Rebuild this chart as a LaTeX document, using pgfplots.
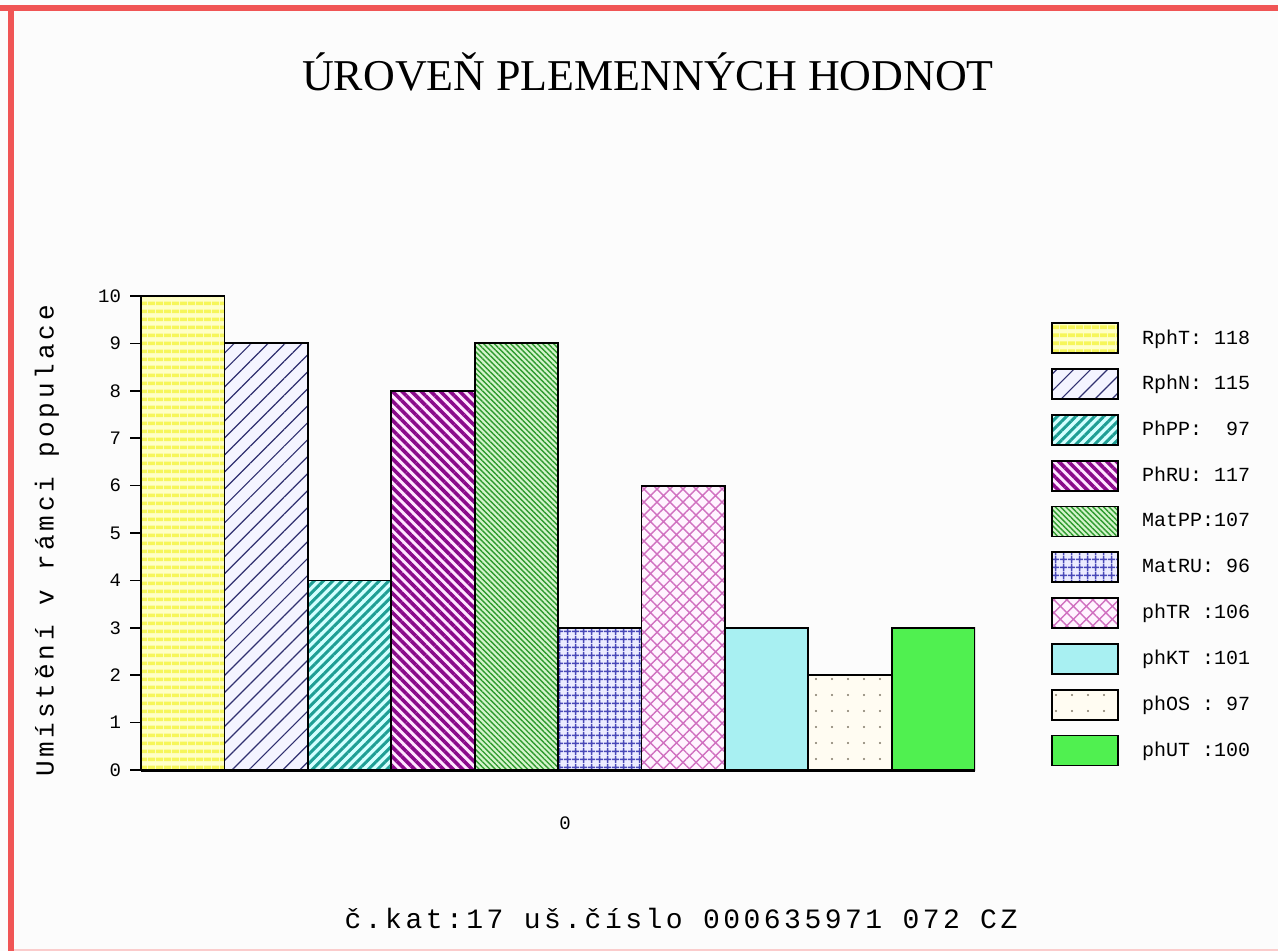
\documentclass[border=0pt]{standalone}
\usepackage{fontspec}
\setmainfont{Liberation Serif}
\newfontfamily\mono{Liberation Mono}
\newfontfamily\monoY[LetterSpace=15]{Liberation Mono}
\newfontfamily\monoB[LetterSpace=12.5]{Liberation Mono}
\usepackage{pgfplots}
\pgfplotsset{compat=1.18}
\usetikzlibrary{patterns.meta}

\definecolor{bgc}{HTML}{FCFCFC}
\definecolor{redb}{HTML}{F05555}
\definecolor{yel}{HTML}{F6F65A}
\definecolor{yelbg}{HTML}{FFFFC8}
\definecolor{navy}{HTML}{303070}
\definecolor{navybg}{HTML}{F4F4FF}
\definecolor{teal2}{HTML}{1E9E94}
\definecolor{tealbg}{HTML}{D4FFFF}
\definecolor{purp}{HTML}{8A0A8A}
\definecolor{purpbg}{HTML}{FFE6FF}
\definecolor{grn}{HTML}{2E9A2E}
\definecolor{grnbg}{HTML}{D4F4CC}
\definecolor{blu}{HTML}{4848B8}
\definecolor{blubg}{HTML}{ECECFF}
\definecolor{pnk}{HTML}{D070C0}
\definecolor{pnkbg}{HTML}{FFF4FF}
\definecolor{cyn}{HTML}{A8F0F2}
\definecolor{dotc}{HTML}{807868}
\definecolor{ivory}{HTML}{FFFCF2}
\definecolor{sgrn}{HTML}{50F050}

\pgfplotsset{
  myleg/.style={legend image code/.code={
    \draw[##1] (0pt,-7.5pt) rectangle (33pt,7.5pt);
    \path[draw=none,fill=none,postaction={}] (44.5pt,0pt);}},
}

\begin{document}
\begin{tikzpicture}[x=0.5pt,y=-0.5pt]
\fill[bgc] (0,0) rectangle (1278,951);
\fill[redb] (0,5) rectangle (1278,11);
\fill[redb] (8,5) rectangle (14,951);
\fill[redb!30] (14,949) rectangle (1278,951);

\node[font=\fontsize{22}{26}\selectfont] at (648,72) {ÚROVEŇ PLEMENNÝCH HODNOT};
\node[rotate=90, font=\monoY\fontsize{13}{15}\selectfont] at (47,541) {Umístění v rámci populace};
\node[font=\monoB\fontsize{14}{16}\selectfont] at (681,918) {č.kat:17 uš.číslo 000635971 072 CZ};

\begin{axis}[
  at={(70.5pt,-385pt)}, anchor=south west,
  scale only axis, width=417pt, height=237pt,
  ybar, bar width=1, bar shift=0pt,
  xmin=-0.5, xmax=9.5, ymin=0, ymax=10,
  axis x line*=bottom, axis y line*=left,
  x axis line style={line width=1.5pt},
  y axis line style={line width=0.8pt},
  ytick={0,...,10},
  xtick={4.5}, xticklabels={0},
  major x tick style={draw=none},
  tick align=outside, major tick length=5.5pt,
  major y tick style={line width=0.8pt, black},
  /pgf/number format/assume math mode=true,
  yticklabel style={font=\mono\fontsize{9.5}{10}\selectfont, xshift=-1pt},
  xticklabel style={font=\mono\fontsize{9.5}{10}\selectfont, anchor=center, yshift=-21pt, xshift=3.5pt},
  legend style={at={(1.0911,0.9451)}, anchor=north west, draw=none, fill=none,
    inner sep=0pt, row sep=7pt,
    font=\mono\fontsize{10}{12}\selectfont,
    nodes={inner sep=0pt, anchor=west}},
  legend cell align=left,
  every axis plot/.append style={draw=black, line width=0.9pt},
]
\addplot[myleg, fill=yelbg, postaction={pattern={Lines[angle=0,distance=4pt,line width=2pt]}, pattern color=yel}] coordinates {(0,10)};
\addplot[myleg, fill=navybg, postaction={pattern={Lines[angle=45,distance=6pt,line width=0.6pt]}, pattern color=navy}] coordinates {(1,9)};
\addplot[myleg, fill=tealbg, postaction={pattern={Lines[angle=45,distance=3.3pt,line width=1.5pt]}, pattern color=teal2}] coordinates {(2,4)};
\addplot[myleg, fill=purpbg, postaction={pattern={Lines[angle=-45,distance=3.4pt,line width=1.8pt]}, pattern color=purp}] coordinates {(3,8)};
\addplot[myleg, fill=grnbg, postaction={pattern={Lines[angle=-45,distance=1.9pt,line width=0.7pt]}, pattern color=grn}] coordinates {(4,9)};
\addplot[myleg, fill=blubg, postaction={pattern={Hatch[angle=0,distance=4pt,line width=0.8pt]}, pattern color=blu}] coordinates {(5,3)};
\addplot[myleg, fill=pnkbg, postaction={pattern={Hatch[angle=45,distance=4.6pt,line width=0.7pt]}, pattern color=pnk}] coordinates {(6,6)};
\addplot[myleg, fill=cyn] coordinates {(7,3)};
\addplot[myleg, fill=ivory, postaction={pattern={Dots[distance=8pt,radius=0.6pt]}, pattern color=dotc}] coordinates {(8,2)};
\addplot[myleg, fill=sgrn] coordinates {(9,3)};
\legend{RphT:~118, RphN:~115, PhPP:~~97, PhRU:~117, MatPP:107, MatRU:~96, phTR~:106, phKT~:101, phOS~:~97, phUT~:100}
\end{axis}
\end{tikzpicture}
\end{document}
